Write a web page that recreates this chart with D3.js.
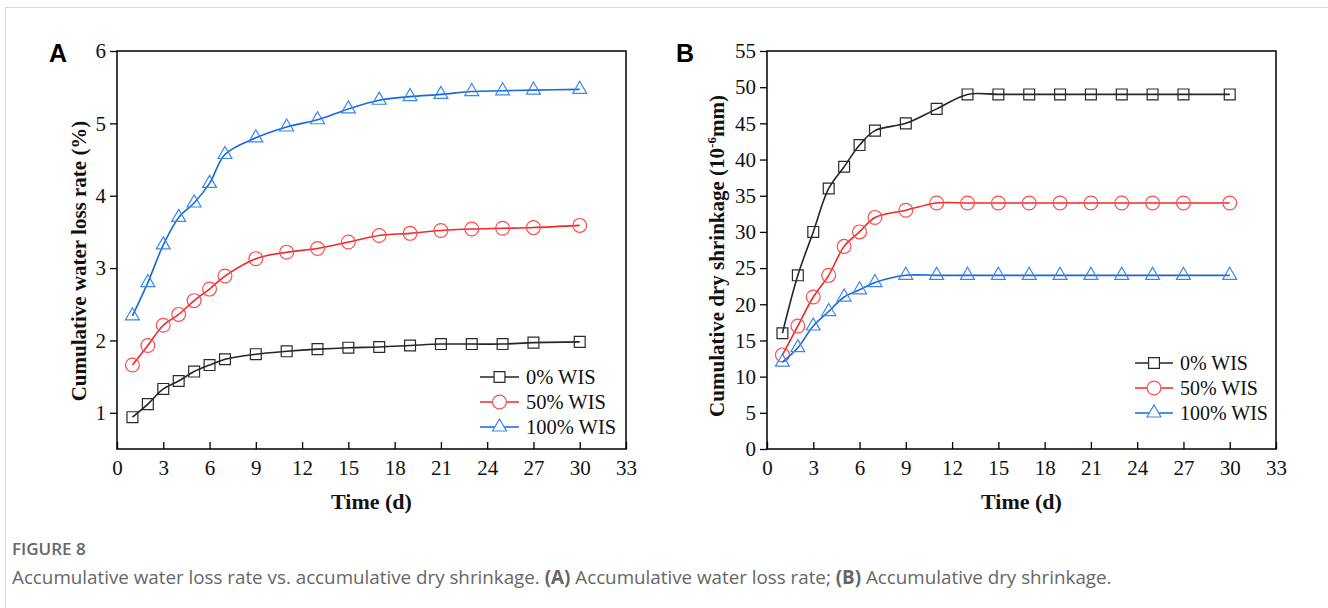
<!DOCTYPE html>
<html>
<head>
<meta charset="utf-8">
<script src="https://cdn.jsdelivr.net/npm/d3@7"></script>
<style>
  body { margin: 0; background: #fff; overflow: hidden; }
  svg { display: block; }
</style>
</head>
<body>
<div id="chart"></div>
<script>
// days sampled
var days = [1, 2, 3, 4, 5, 6, 7, 9, 11, 13, 15, 17, 19, 21, 23, 25, 27, 30];
var xTicks = [0, 3, 6, 9, 12, 15, 18, 21, 24, 27, 30, 33];

// panel A: cumulative water loss rate (%)
var lossW0   = [0.94, 1.12, 1.33, 1.44, 1.57, 1.66, 1.74, 1.81, 1.85, 1.88, 1.90, 1.91, 1.93, 1.95, 1.95, 1.95, 1.97, 1.98];
var lossW50  = [1.66, 1.93, 2.21, 2.36, 2.55, 2.71, 2.89, 3.13, 3.22, 3.27, 3.36, 3.45, 3.48, 3.52, 3.54, 3.55, 3.56, 3.59];
var lossW100 = [2.34, 2.80, 3.32, 3.70, 3.90, 4.17, 4.57, 4.80, 4.95, 5.05, 5.20, 5.32, 5.37, 5.40, 5.44, 5.45, 5.46, 5.47];
var lossTicks = [1, 2, 3, 4, 5, 6];

// panel B: cumulative dry shrinkage (10^-6 mm)
var shrW0   = [16, 24, 30, 36, 39, 42, 44, 45, 47, 49, 49, 49, 49, 49, 49, 49, 49, 49];
var shrW50  = [13, 17, 21, 24, 28, 30, 32, 33, 34, 34, 34, 34, 34, 34, 34, 34, 34, 34];
var shrW100 = [12, 14, 17, 19, 21, 22, 23, 24, 24, 24, 24, 24, 24, 24, 24, 24, 24, 24];
var shrTicks = [0, 5, 10, 15, 20, 25, 30, 35, 40, 45, 50, 55];

var seriesNames = ['0% WIS', '50% WIS', '100% WIS'];

var styles = [
  { line: '#262626', mark: '#2a2a2a', sym: d3.symbolSquare, size: 118 },
  { line: '#f0282a', mark: '#ff4a4a', sym: d3.symbolCircle, size: 150 },
  { line: '#1668dc', mark: '#3d86ee', sym: d3.symbolTriangle, size: 84 }
];

var serif = '"Liberation Serif", "Times New Roman", serif';

var svg = d3.select('#chart').append('svg')
  .attr('width', 1328)
  .attr('height', 608);

// page frame
svg.append('rect')
  .attr('x', 5.5).attr('y', 7.5)
  .attr('width', 1330).attr('height', 610)
  .attr('fill', 'none')
  .attr('stroke', '#d9d9d9');

function drawPanel(p) {
  var g = svg.append('g');

  var x = d3.scaleLinear().domain([0, 33]).range([p.left, p.right]);
  var y = d3.scaleLinear().domain(p.yDomain).range([p.bottom, p.top]);

  // x axis, ticks pointing in
  g.append('g')
    .attr('transform', 'translate(0,' + p.bottom + ')')
    .call(d3.axisBottom(x).tickValues(xTicks).tickFormat(d3.format('d'))
      .tickSizeInner(-7).tickSizeOuter(0).tickPadding(11))
    .call(function(a) {
      a.select('.domain').remove();
      a.selectAll('line').attr('stroke', '#000').attr('stroke-width', 1.3);
      a.selectAll('text').attr('font-family', serif).attr('font-size', 21).attr('fill', '#111');
    });

  // y axis, ticks pointing out
  g.append('g')
    .attr('transform', 'translate(' + p.left + ',0)')
    .call(d3.axisLeft(y).tickValues(p.yTicks).tickFormat(d3.format('d'))
      .tickSizeInner(7).tickSizeOuter(0).tickPadding(4))
    .call(function(a) {
      a.select('.domain').remove();
      a.selectAll('line').attr('stroke', '#000').attr('stroke-width', 1.3);
      a.selectAll('text').attr('font-family', serif).attr('font-size', 21).attr('fill', '#111');
    });

  // frame
  g.append('rect')
    .attr('x', p.left).attr('y', p.top)
    .attr('width', p.right - p.left).attr('height', p.bottom - p.top)
    .attr('fill', 'none').attr('stroke', '#000').attr('stroke-width', 1.5);

  var line = d3.line()
    .x(function(d) { return x(d.x); })
    .y(function(d) { return y(d.y); })
    .curve(d3.curveCatmullRom.alpha(0.5));

  p.series.forEach(function(vals, i) {
    var st = styles[i];
    var pts = days.map(function(d, j) { return { x: d, y: vals[j] }; });

    g.append('path')
      .attr('d', line(pts))
      .attr('fill', 'none')
      .attr('stroke', st.line)
      .attr('stroke-width', 1.6);

    g.append('g').selectAll('path')
      .data(pts)
      .enter()
      .append('path')
      .attr('d', d3.symbol().type(st.sym).size(st.size))
      .attr('transform', function(d) { return 'translate(' + x(d.x) + ',' + y(d.y) + ')'; })
      .attr('fill', 'none')
      .attr('stroke', st.mark)
      .attr('stroke-width', 1.2);
  });

  // legend
  seriesNames.forEach(function(name, i) {
    var st = styles[i];
    var ly = p.legY + i * p.legGap;
    g.append('line')
      .attr('x1', p.legX).attr('x2', p.legX + p.legW)
      .attr('y1', ly).attr('y2', ly)
      .attr('stroke', st.line).attr('stroke-width', 1.6);
    g.append('path')
      .attr('d', d3.symbol().type(st.sym).size(st.size))
      .attr('transform', 'translate(' + (p.legX + p.legW / 2) + ',' + ly + ')')
      .attr('fill', '#fff')
      .attr('stroke', st.mark)
      .attr('stroke-width', 1.2);
    g.append('text')
      .attr('x', p.legX + p.legW + 7)
      .attr('y', ly + 7)
      .attr('font-family', serif)
      .attr('font-size', p.legFont)
      .attr('fill', '#111')
      .text(name);
  });

  // axis titles
  g.append('text')
    .attr('x', (p.left + p.right) / 2)
    .attr('y', 509)
    .attr('text-anchor', 'middle')
    .attr('font-family', serif)
    .attr('font-weight', 'bold')
    .attr('font-size', 22)
    .attr('fill', '#111')
    .text('Time (d)');

  var yl = g.append('text')
    .attr('transform', 'translate(' + p.yLabX + ',' + p.yLabY + ') rotate(-90)')
    .attr('text-anchor', 'middle')
    .attr('font-family', serif)
    .attr('font-weight', 'bold')
    .attr('font-size', 21)
    .attr('fill', '#111');
  p.yLabel(yl);

  // panel letter
  g.append('text')
    .attr('x', p.letterX)
    .attr('y', 62)
    .attr('font-family', '"Liberation Sans", Arial, sans-serif')
    .attr('font-weight', 'bold')
    .attr('font-size', 25)
    .attr('fill', '#000')
    .text(p.letter);
}

drawPanel({
  letter: 'A', letterX: 49,
  left: 117, right: 626, top: 51, bottom: 449,
  yDomain: [0.5, 6], yTicks: lossTicks,
  series: [lossW0, lossW50, lossW100],
  legX: 480, legW: 39, legY: 377, legGap: 25, legFont: 20.5,
  yLabX: 86, yLabY: 261,
  yLabel: function(t) { t.text('Cumulative water loss rate (%)'); }
});

drawPanel({
  letter: 'B', letterX: 676,
  left: 767, right: 1276, top: 51, bottom: 449,
  yDomain: [0, 55], yTicks: shrTicks,
  series: [shrW0, shrW50, shrW100],
  legX: 1135, legW: 38, legY: 363, legGap: 25, legFont: 20,
  yLabX: 724, yLabY: 256,
  yLabel: function(t) {
    t.append('tspan').text('Cumulative dry shrinkage (10');
    t.append('tspan').attr('font-size', 13).attr('dy', -8).text('-6');
    t.append('tspan').attr('dy', 8).text('mm)');
  }
});

// caption
svg.append('text')
  .attr('x', 12).attr('y', 555)
  .attr('font-family', '"Open Sans", "Noto Sans", sans-serif')
  .attr('font-weight', 600)
  .attr('font-size', 17)
  .attr('fill', '#666')
  .text('FIGURE 8');

var cap = svg.append('text')
  .attr('x', 12).attr('y', 584)
  .attr('font-family', '"Open Sans", "Noto Sans", sans-serif')
  .attr('font-size', 18.8)
  .attr('fill', '#666');
cap.append('tspan').text('Accumulative water loss rate vs. accumulative dry shrinkage. ');
cap.append('tspan').attr('font-weight', 'bold').text('(A)');
cap.append('tspan').text(' Accumulative water loss rate; ');
cap.append('tspan').attr('font-weight', 'bold').text('(B)');
cap.append('tspan').text(' Accumulative dry shrinkage.');
</script>
</body>
</html>
